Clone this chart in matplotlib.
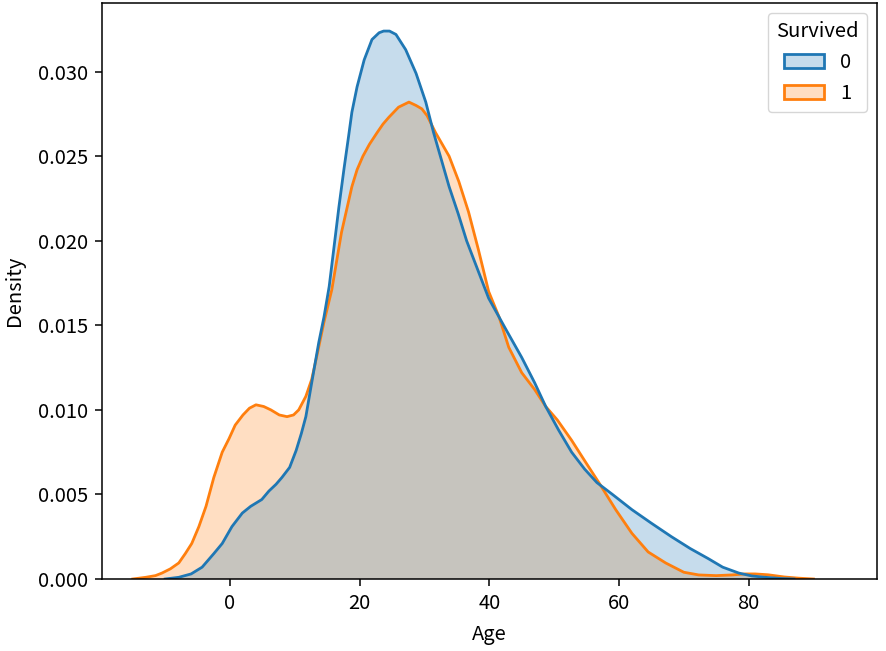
#!/usr/bin/env python3

"""
Age density by survival (KDE curves read off the reference)
"""

import matplotlib
matplotlib.use("Agg")
import matplotlib.pyplot as plt
from matplotlib.colors import to_rgb
from matplotlib.patches import Patch
from matplotlib.ticker import FormatStrFormatter

plt.rcParams['font.family'] = ['Noto Sans CJK KR', 'DejaVu Sans']

# Survived = 0
age_0 = [-10, -7.9, -6, -4.3, -2.5, -1.2, 0.3, 1.9, 3.2, 4.9, 6, 7.1, 8, 9.2,
         10.2, 11, 11.7, 12.6, 13.7, 14.5, 15.3, 16.8, 17.6, 18.3, 18.8, 19.6,
         20.7, 21.9, 23, 23.7, 24.6, 25.6, 27.1, 28.7, 30.2, 31.4, 32.6, 33.8,
         35.2, 36.5, 38.2, 39.9, 42.5, 45, 47, 48.7, 50.7, 52.7, 54.7, 56.6,
         59, 62, 65, 68.1, 71, 73.8, 76, 78.5, 80.5, 82.6, 85, 87]
dens_0 = [0.0, 0.0001, 0.0003, 0.0007, 0.0015, 0.0021, 0.0031, 0.0039, 0.0043,
          0.0047, 0.0052, 0.0056, 0.0060, 0.0066, 0.0076, 0.0086, 0.0096,
          0.0116, 0.0140, 0.0155, 0.0173, 0.0220, 0.0243, 0.0262, 0.0276,
          0.0291, 0.0307, 0.0319, 0.0323, 0.0324, 0.0324, 0.0322, 0.0313,
          0.0299, 0.0282, 0.0264, 0.0248, 0.0232, 0.0216, 0.0200, 0.0183,
          0.0166, 0.0148, 0.0131, 0.0116, 0.0102, 0.0088, 0.0075, 0.0065,
          0.0057, 0.0050, 0.0041, 0.0033, 0.0025, 0.0018, 0.0012, 0.0007,
          0.00035, 0.00018, 0.0001, 0.00003, 0.0]

# Survived = 1
age_1 = [-15, -13, -11.5, -10.5, -9.2, -7.9, -6.9, -5.9, -4.8, -3.7, -2.5,
         -1.2, -0.15, 0.8, 2, 3, 4, 5.2, 6.3, 7.6, 8.8, 9.8, 10.6, 11.7, 12.6,
         13.4, 14.5, 15.7, 17.2, 18.8, 19.6, 20.5, 21.5, 22.7, 23.6, 24.5, 26,
         27.6, 28.7, 29.6, 30.4, 31.7, 33.8, 35.3, 36.8, 38.3, 39.9, 41.5, 43,
         45, 47, 48.7, 50.5, 52.7, 54.7, 56.9, 59.5, 62, 64.5, 67.2, 70, 72.3,
         75, 77.4, 79.5, 81, 83, 85.5, 87.7, 90]
dens_1 = [0.0, 0.0001, 0.0002, 0.00035, 0.0006, 0.00095, 0.0015, 0.0021,
          0.0031, 0.0043, 0.0060, 0.0075, 0.0083, 0.0091, 0.0097, 0.0101,
          0.0103, 0.0102, 0.0100, 0.0097, 0.0096, 0.0097, 0.0100, 0.0108,
          0.0118, 0.0132, 0.0152, 0.0171, 0.0205, 0.0232, 0.0242, 0.0250,
          0.0257, 0.0264, 0.0269, 0.0273, 0.0279, 0.0282, 0.0280, 0.0278,
          0.0274, 0.0264, 0.0250, 0.0235, 0.0217, 0.0195, 0.0170, 0.0155,
          0.0137, 0.0122, 0.0112, 0.0102, 0.0094, 0.0082, 0.0070, 0.0057,
          0.0041, 0.0027, 0.0016, 0.00095, 0.0004, 0.00024, 0.0002, 0.00024,
          0.0003, 0.0003, 0.00025, 0.00012, 0.00005, 0.0]

labels = ["0", "1"]
colors = ["#1f77b4", "#ff7f0e"]


def draw_kde(ax, xs, ys, color):
  ax.fill_between(xs, ys, 0, facecolor=color, alpha=0.25, linewidth=0)
  ax.plot(xs, ys, color=color, linewidth=2.0, solid_joinstyle="round")


if __name__ == "__main__":
  fig = plt.figure(figsize=(8.86, 6.51), dpi=100)
  ax = fig.add_axes([0.1151, 0.1106, 0.8747, 0.8848])

  # orange first, blue on top (as in the reference)
  draw_kde(ax, age_1, dens_1, colors[1])
  draw_kde(ax, age_0, dens_0, colors[0])

  ax.set_xlim(-19.75, 99.8)
  ax.set_ylim(0, 0.03406)
  ax.set_xticks([0, 20, 40, 60, 80])
  ax.set_yticks([0.0, 0.005, 0.01, 0.015, 0.02, 0.025, 0.03])
  ax.yaxis.set_major_formatter(FormatStrFormatter("%.3f"))
  ax.tick_params(labelsize=14.5, length=5, width=1.1, pad=5)
  for s in ax.spines.values():
    s.set_linewidth(1.1)
  ax.set_xlabel("Age", fontsize=14.5, labelpad=7)
  ax.set_ylabel("Density", fontsize=14.5, labelpad=9)

  handles = [Patch(facecolor=(*to_rgb(c), 0.25), edgecolor=c, linewidth=2.0)
             for c in colors]
  ax.legend(handles, labels, title="Survived", loc="upper right",
            fontsize=14.5, title_fontsize=14.5)

  fig.savefig("out.png", dpi=100)
